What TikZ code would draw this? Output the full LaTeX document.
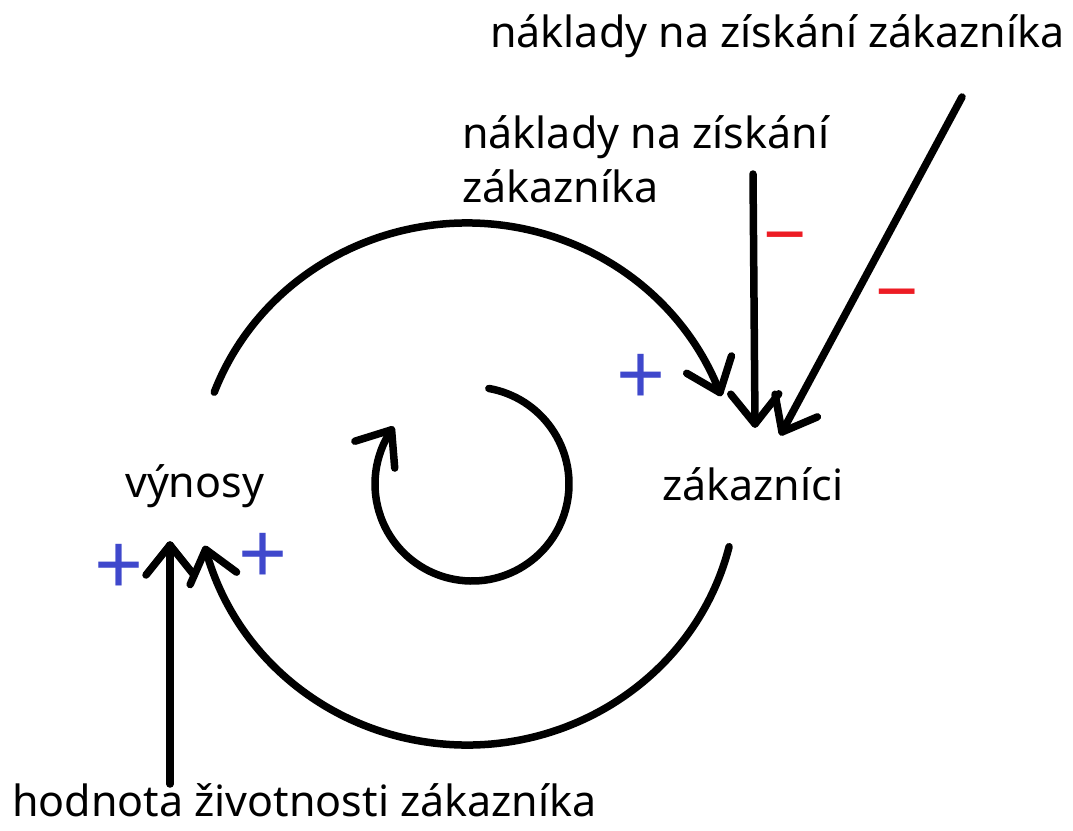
\documentclass[tikz,border=0pt]{standalone}
\usepackage{fontspec}
\setmainfont{Noto Sans}
\usetikzlibrary{arrows.meta}
\pgfdeclarearrow{
  name = VHead,
  parameters = {\the\pgfarrowlength,\the\pgfarrowwidth},
  setup code = {
    \pgfarrowssettipend{0pt}
    \pgfarrowssetlineend{0pt}
    \pgfarrowssetbackend{-\pgfarrowlength}
    \pgfarrowssavethe\pgfarrowlength
    \pgfarrowssavethe\pgfarrowwidth
  },
  drawing code = {
    \pgfsetdash{}{0pt}
    \pgfsetroundcap
    \pgfsetroundjoin
    \pgfpathmoveto{\pgfqpoint{-\pgfarrowlength}{.5\pgfarrowwidth}}
    \pgfpathlineto{\pgfpointorigin}
    \pgfpathlineto{\pgfqpoint{-\pgfarrowlength}{-.5\pgfarrowwidth}}
    \pgfusepathqstroke
  },
  defaults = {length = 30pt, width = 48pt}
}
\definecolor{plusblue}{HTML}{3F48CC}
\definecolor{minusred}{HTML}{ED1C24}
\begin{document}
\begin{tikzpicture}[x=1pt,y=1pt,
  lbl/.style={inner sep=0pt, font=\fontsize{43}{54}\selectfont},
  conn/.style={line width=7.5pt, line cap=round, -{VHead[length=30pt,width=48pt]}},
  plussign/.style={inner sep=0pt, text=plusblue, font=\fontsize{86}{86}\selectfont\bfseries},
  minussign/.style={inner sep=0pt, text=minusred, font=\fontsize{76}{76}\selectfont\bfseries}]
\useasboundingbox (0,-830) rectangle (1073,0);
\fill[white] (0,-830) rectangle (1073,0);

% labels (y measured downward from the top, written negative)
\node[lbl, anchor=base west] (topcost) at (490,-47) {náklady na získání zákazníka};
\node[lbl, anchor=base west] (midcost1) at (462,-148) {náklady na získání};
\node[lbl, anchor=base west] (midcost2) at (462,-202) {zákazníka};
\node[lbl, anchor=base west] (rev) at (125,-497) {výnosy};
\node[lbl, anchor=base west] (cust) at (662,-500) {zákazníci};
\node[lbl, anchor=base west] (ltv) at (12,-816) {hodnota životnosti zákazníka};

% connector end points
\coordinate (topStart) at (962,-97);
\coordinate (topTip) at (782,-432);
\coordinate (midStart) at (753,-174);
\coordinate (midTip) at (755,-424);
\coordinate (ltvStart) at (170,-784);
\coordinate (ltvTip) at (170,-545);

% straight connectors
\draw[conn] (topStart) -- (topTip);
\draw[conn] (midStart) -- (midTip);
\draw[conn] (ltvStart) -- (ltvTip);

% big loop arcs
\coordinate (loopC) at (467,-484);
\draw[conn] ([shift={(159.4:270 and 261)}]loopC) arc[start angle=159.4, end angle=20.5, x radius=270, y radius=261];
\draw[conn] ([shift={(-13.9:270 and 261)}]loopC) arc[start angle=-13.9, end angle=-165.5, x radius=270, y radius=261];

% inner loop symbol
\coordinate (innerC) at (472,-484);
\draw[conn] ([shift={(80:97)}]innerC) arc[start angle=80, end angle=-214, radius=97];

% signs
\node[plussign] (p1) at (641,-380) {+};
\node[plussign] (p2) at (119,-570) {+};
\node[plussign] (p3) at (263,-559) {+};
\node[minussign] (m1) at (785,-247) {−};
\node[minussign] (m2) at (897,-304) {−};
\end{tikzpicture}
\end{document}
